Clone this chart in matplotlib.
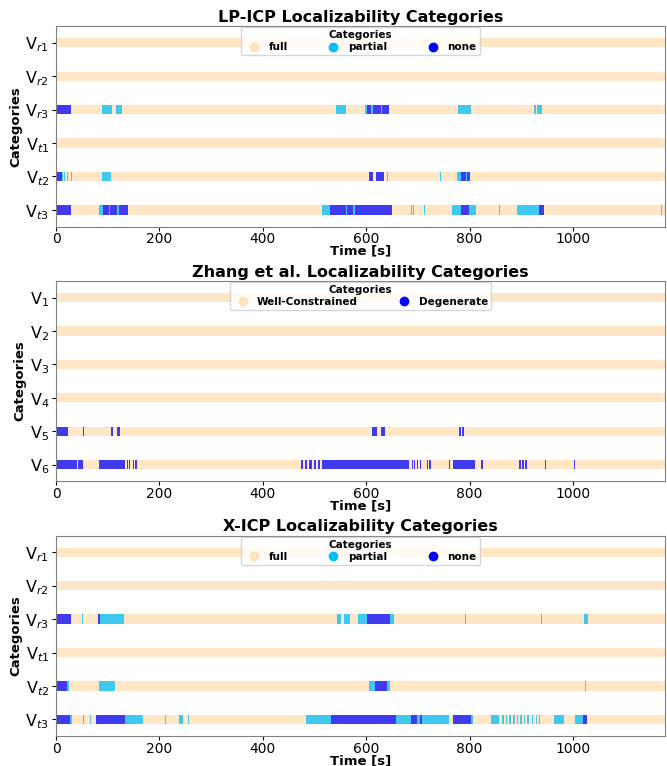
import matplotlib
matplotlib.use('Agg')
import matplotlib.pyplot as plt
from matplotlib.lines import Line2D

# Время записи [s]
t_end = 1178

# Метки строк
lp_labels = ['V$_{r1}$', 'V$_{r2}$', 'V$_{r3}$', 'V$_{t1}$', 'V$_{t2}$', 'V$_{t3}$']
zhang_labels = ['V$_{1}$', 'V$_{2}$', 'V$_{3}$', 'V$_{4}$', 'V$_{5}$', 'V$_{6}$']
x_labels = lp_labels

# LP-ICP: отрезки (начало, конец) для partial / none по строкам
lp_partial = [
    [],
    [],
    [(88, 108), (116, 128), (541, 560), (597, 601), (610, 613), (628, 631),
     (778, 802), (925, 928), (931, 940)],
    [],
    [(11, 14), (15, 17), (21, 23), (28, 30), (88, 106), (641, 643),
     (743, 745), (775, 783), (793, 795)],
    [(83, 91), (102, 105), (118, 121), (514, 530), (560, 563), (575, 578),
     (686, 688), (690, 692), (712, 714), (766, 783), (799, 812), (857, 859),
     (892, 934), (1170, 1172)],
]
lp_none = [
    [],
    [],
    [(0, 29), (601, 610), (613, 628), (631, 644)],
    [],
    [(0, 11), (605, 614), (618, 634), (783, 793), (795, 800)],
    [(0, 29), (91, 102), (105, 118), (121, 139), (530, 560), (563, 575),
     (578, 650), (783, 799), (934, 944)],
]

# Zhang et al.: только Degenerate
zhang_none = [
    [],
    [],
    [],
    [],
    [(0, 24), (52, 55), (107, 110), (117, 124), (612, 620), (629, 636),
     (780, 783), (786, 790)],
    [(0, 40), (43, 53), (83, 133), (137, 139), (142, 144), (148, 150),
     (153, 156), (474, 478), (482, 486), (490, 495), (499, 503), (507, 511),
     (514, 683), (688, 690), (693, 695), (699, 701), (704, 706), (717, 719),
     (722, 725), (760, 762), (767, 810), (823, 825), (896, 899), (902, 905),
     (908, 911), (945, 947), (1002, 1004)],
]

# X-ICP
x_partial = [
    [],
    [],
    [(50, 52), (86, 132), (544, 551), (557, 569), (584, 601), (646, 654),
     (792, 794), (939, 941), (1021, 1029)],
    [],
    [(21, 25), (83, 114), (605, 617), (640, 647), (1024, 1026)],
    [(27, 31), (53, 55), (66, 68), (133, 168), (211, 213), (238, 245),
     (255, 258), (484, 531), (657, 686), (698, 704), (707, 760), (803, 806),
     (842, 857), (863, 866), (870, 873), (877, 880), (884, 887), (891, 894),
     (898, 901), (905, 908), (912, 915), (920, 923), (928, 931), (935, 937),
     (963, 983), (1003, 1020)],
]
x_none = [
    [],
    [],
    [(0, 29), (82, 86), (601, 646)],
    [],
    [(0, 21), (617, 640)],
    [(0, 27), (77, 133), (531, 657), (686, 698), (704, 707), (767, 803),
     (1020, 1028)],
]

c_full = 'navajowhite'
c_partial = 'deepskyblue'
c_none = 'blue'


def draw(ax, labels, partial, none, title, names):
    h = 0.28
    for i in range(len(labels)):
        ax.broken_barh([(0, t_end)], (i - h / 2, h), facecolor=c_full, alpha=0.7, lw=0)
        if partial is not None:
            segs = [(a, b - a) for a, b in partial[i]]
            ax.broken_barh(segs, (i - h / 2, h), facecolor=c_partial, alpha=0.75, lw=0)
        segs = [(a, b - a) for a, b in none[i]]
        ax.broken_barh(segs, (i - h / 2, h), facecolor=c_none, alpha=0.75, lw=0)
    ax.set_yticks(range(len(labels)))
    ax.set_yticklabels(labels, fontsize=11.5)
    ax.set_ylim(len(labels) - 0.5, -0.5)
    ax.set_xlim(0, t_end)
    ax.set_xticks([0, 200, 400, 600, 800, 1000])
    ax.tick_params(axis='x', labelsize=10, length=3, pad=1)
    ax.tick_params(axis='y', length=3, pad=2)
    ax.set_title(title, fontsize=11.5, fontweight='bold', pad=3)
    ax.set_xlabel('Time [s]', fontsize=9.5, fontweight='bold', labelpad=-1)
    ax.set_ylabel('Categories', fontsize=9.5, fontweight='bold', labelpad=2)
    for s in ax.spines.values():
        s.set_color('gray')
    cols = [c_full, c_partial, c_none] if len(names) == 3 else [c_full, c_none]
    handles = [Line2D([], [], ls='', marker='o', markersize=6, color=c,
                      alpha=0.8 if c == c_full else 1) for c in cols]
    ax.legend(handles, names, title='Categories', loc='upper center',
              ncol=len(names), prop={'weight': 'bold', 'size': 7.5},
              title_fontproperties={'weight': 'bold', 'size': 7.5},
              borderaxespad=0.1, columnspacing=3.5, handletextpad=0.5,
              handlelength=1.8, borderpad=0.3, labelspacing=0.2)


fig, axes = plt.subplots(3, 1, figsize=(6.67, 7.66), dpi=100)
draw(axes[0], lp_labels, lp_partial, lp_none, 'LP-ICP Localizability Categories',
     ['full', 'partial', 'none'])
draw(axes[1], zhang_labels, None, zhang_none, 'Zhang et al. Localizability Categories',
     ['Well-Constrained', 'Degenerate'])
draw(axes[2], x_labels, x_partial, x_none, 'X-ICP Localizability Categories',
     ['full', 'partial', 'none'])
plt.subplots_adjust(left=0.084, right=0.997, top=0.966, bottom=0.039, hspace=0.27)
plt.savefig('out.png', dpi=100)
